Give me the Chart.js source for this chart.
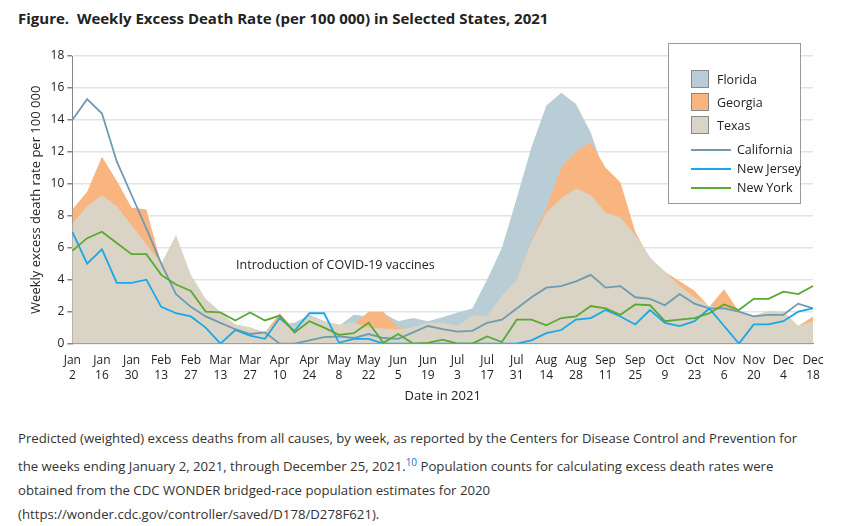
<!DOCTYPE html>
<html><head><meta charset="utf-8">
<script src="https://cdn.jsdelivr.net/npm/chart.js@4"></script>
<style>
body{margin:0;width:853px;height:526px;background:#fff;font-family:"Open Sans",sans-serif;color:#222;position:relative;overflow:hidden}
#title{position:absolute;left:18px;top:8px;font-weight:bold;font-size:15px;color:#222}
#wrap{position:absolute;left:0;top:34px;width:853px;height:374px}
#legend{position:absolute;left:668px;top:43px;width:131px;height:159px;border:1px solid #999;background:#fff;font-size:12.5px}
.li{position:absolute;left:22px;display:flex;align-items:center;white-space:nowrap}
.sw{width:18px;height:18px;border:1px solid #888;margin-right:8px;box-sizing:border-box}
.ln{width:40px;height:2px;margin-right:6px;margin-left:-12px}
#cap{position:absolute;left:18px;top:426px;width:800px;font-size:13.2px;line-height:24px;color:#333}
#cap sup{color:#1a73c8;font-size:10px}
</style></head><body>
<div id="title">Figure.&nbsp; Weekly Excess Death Rate (per 100 000) in Selected States, 2021</div>
<div id="wrap"><canvas id="c"></canvas></div>
<div id="legend">
 <div class="li" style="top:26px"><div class="sw" style="background:#b9cdd6"></div>Florida</div>
 <div class="li" style="top:49px"><div class="sw" style="background:#f8b57f"></div>Georgia</div>
 <div class="li" style="top:72px"><div class="sw" style="background:#d9d4c5"></div>Texas</div>
 <div class="li" style="top:97px;left:34px"><div class="ln" style="background:#6f9ab0"></div>California</div>
 <div class="li" style="top:116px;left:34px"><div class="ln" style="background:#1aa7e8"></div>New Jersey</div>
 <div class="li" style="top:135px;left:34px"><div class="ln" style="background:#5aa832"></div>New York</div>
</div>
<div id="cap">Predicted (weighted) excess deaths from all causes, by week, as reported by the Centers for Disease Control and Prevention for the weeks ending January 2, 2021, through December 25, 2021.<sup>10</sup> Population counts for calculating excess death rates were obtained from the CDC WONDER bridged-race population estimates for 2020 (https://wonder.cdc.gov/controller/saved/D178/D278F621).</div>
<script>
const tickLabels = [["Jan","2"],["Jan","16"],["Jan","30"],["Feb","13"],["Feb","27"],["Mar","13"],["Mar","27"],["Apr","10"],["Apr","24"],["May","8"],["May","22"],["Jun","5"],["Jun","19"],["Jul","3"],["Jul","17"],["Jul","31"],["Aug","14"],["Aug","28"],["Sep","11"],["Sep","25"],["Oct","9"],["Oct","23"],["Nov","6"],["Nov","20"],["Dec","4"],["Dec","18"]];
const weeks = [];
for (let i = 0; i < 51; i++) weeks.push(i % 2 === 0 ? tickLabels[i / 2] : "");

const florida = [6.5,7.5,8.0,7.5,6.5,5.5,4.5,5.5,3.5,2.3,1.6,1.0,0.8,0.6,1.2,1.3,1.8,1.4,1.1,1.8,1.7,1.9,1.4,1.6,1.4,1.65,1.95,2.2,4.0,6.0,9.1,12.3,14.9,15.7,15.0,13.2,10.5,8.0,6.0,4.8,4.0,3.3,2.6,2.0,2.0,1.8,1.5,1.6,1.7,1.0,1.2];
const georgia = [8.4,9.5,11.7,10.2,8.5,8.4,5.0,6.0,4.0,2.6,1.8,1.2,1.0,0.7,1.9,0.9,1.6,1.3,1.1,1.2,2.0,2.0,1.0,0.9,1.2,1.2,1.0,1.6,1.7,2.9,4.0,6.5,8.5,11.0,12.0,12.6,11.0,10.1,7.0,5.3,4.5,3.9,3.3,2.3,3.4,2.0,1.7,1.8,2.0,1.1,1.7];
const texas = [7.5,8.6,9.3,8.6,7.4,6.2,5.0,6.8,4.3,2.8,2.0,1.2,1.0,0.7,1.5,1.0,1.7,1.4,1.2,1.3,1.0,0.95,0.9,1.0,1.3,1.3,1.1,1.75,1.75,3.0,4.0,6.4,8.2,9.1,9.7,9.3,8.2,7.9,6.8,5.4,4.5,3.6,2.9,2.35,2.25,2.05,1.75,2.05,2.0,1.1,1.4];
const california = [14.0,15.3,14.4,11.4,9.3,7.2,5.0,3.1,2.3,1.7,1.3,0.9,0.6,0.7,0,0,0.2,0.4,0.45,0.35,0.6,0.35,0.3,0.7,1.1,0.9,0.75,0.8,1.3,1.5,2.2,2.9,3.5,3.6,3.9,4.3,3.5,3.6,2.9,2.8,2.4,3.1,2.5,2.2,2.2,2.0,1.7,1.8,1.8,2.5,2.2];
const newJersey = [7.0,5.0,5.9,3.8,3.8,4.0,2.3,1.9,1.7,1.0,0,0.85,0.5,0.3,1.6,0.8,1.9,1.9,0.05,0.3,0.3,0,0,0,0,0,0,0,0,0,0,0.2,0.65,0.85,1.5,1.6,2.1,1.7,1.2,2.1,1.3,1.1,1.4,2.2,1.1,0,1.2,1.2,1.4,2.0,2.2];
const newYork = [5.8,6.6,7.0,6.3,5.6,5.6,4.3,3.7,3.3,2.0,1.95,1.45,1.95,1.45,1.75,0.7,1.4,1.0,0.55,0.65,1.3,0.05,0.6,0,0.05,0.25,0,0,0.45,0.1,1.5,1.5,1.15,1.6,1.7,2.35,2.2,1.8,2.45,2.4,1.4,1.5,1.6,1.9,2.45,2.1,2.8,2.8,3.25,3.1,3.6];

function area(label, data, color, order) {
  return {label, data, backgroundColor: color, borderWidth: 0, fill: 'origin', pointRadius: 0, tension: 0, order};
}
function line(label, data, color) {
  return {label, data, borderColor: color, borderWidth: 1.8, fill: false, pointRadius: 0, tension: 0, order: 0};
}

const annot = {
  id: 'annot',
  afterDatasetsDraw(chart) {
    const {ctx, scales} = chart;
    ctx.save();
    ctx.font = '12.5px "Open Sans"';
    ctx.fillStyle = '#222';
    ctx.textBaseline = 'middle';
    ctx.fillText('Introduction of COVID-19 vaccines', scales.x.getPixelForValue(11.05), scales.y.getPixelForValue(4.9));
    ctx.restore();
  }
};

new Chart(document.getElementById('c'), {
  type: 'line',
  data: {
    labels: weeks,
    datasets: [
      line('New York', newYork, '#5aa832'),
      line('New Jersey', newJersey, '#1aa7e8'),
      line('California', california, '#6f9ab0'),
      area('Texas', texas, '#d9d4c5', 1),
      area('Georgia', georgia, '#f8b57f', 2),
      area('Florida', florida, '#b9cdd6', 3)
    ]
  },
  options: {
    responsive: true, maintainAspectRatio: false, animation: false,
    layout: {padding: {left: 24, right: 40, top: 22, bottom: 0}},
    plugins: {legend: {display: false}, tooltip: {enabled: false}},
    scales: {
      x: {
        grid: {display: false, drawTicks: true},
        border: {color: '#888'},
        ticks: {autoSkip: false, maxRotation: 0, font: {size: 12, family: 'Open Sans'}, color: '#222', padding: 2},
        title: {display: true, text: 'Date in 2021', font: {size: 13, family: 'Open Sans'}, color: '#222', padding: {top: 4}}
      },
      y: {
        min: 0, max: 18,
        ticks: {stepSize: 2, font: {size: 12, family: 'Open Sans'}, color: '#222'},
        grid: {color: '#e3e3e3', lineWidth: 1.5, tickColor: '#888', tickLength: 5},
        border: {color: '#888'},
        title: {display: true, text: 'Weekly excess death rate per 100 000', font: {size: 13, family: 'Open Sans'}, color: '#222'}
      }
    }
  },
  plugins: [annot]
});
</script>
</body></html>
